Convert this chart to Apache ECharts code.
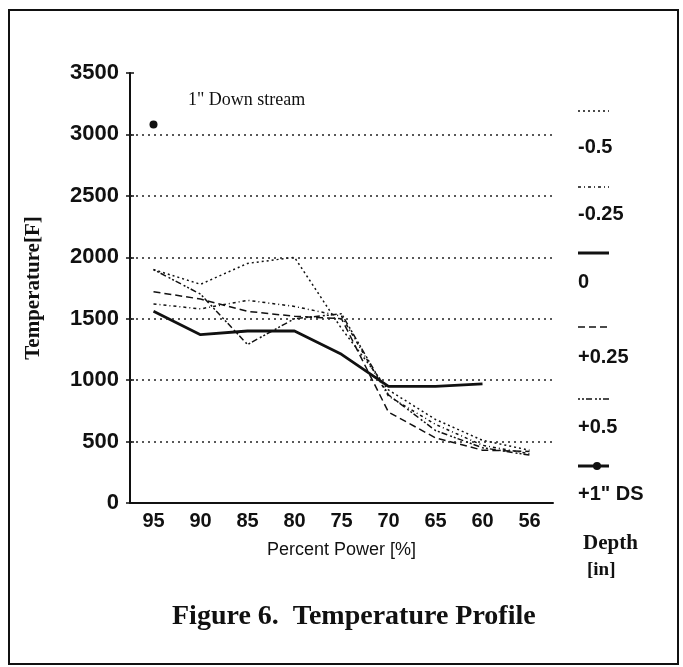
<!DOCTYPE html>
<html>
<head>
<meta charset="utf-8">
<script src="https://cdn.jsdelivr.net/npm/echarts@6/dist/echarts.min.js"></script>
<style>html,body{margin:0;padding:0;background:#fff;}#c{width:683px;height:667px;}</style>
</head>
<body>
<div id="c"></div>
<script>
const categories = ['95','90','85','80','75','70','65','60','56'];
const depthMinus05  = [1900, 1780, 1950, 2000, 1420, 920, 680, 510, 430];
const depthMinus025 = [1620, 1580, 1650, 1600, 1520, 870, 640, 470, 400];
const depthZero     = [1560, 1370, 1400, 1400, 1210, 950, 950, 970, null];
const depthPlus025  = [1720, 1660, 1560, 1520, 1500, 740, 530, 430, 420];
const depthPlus05   = [1900, 1700, 1290, 1500, 1540, 880, 590, 450, 390];
const depthDS       = [3080, null, null, null, null, null, null, null, null];
const gridValues = [500, 1000, 1500, 2000, 2500, 3000];
const legendLabels = ['-0.5', '-0.25', '0', '+0.25', '+0.5', '+1" DS'];

const chart = echarts.init(document.getElementById('c'));
const sans = 'Liberation Sans';
const serif = 'Liberation Serif';
function lineSeries(name, data, type, width) {
  return { name, type: 'line', data, showSymbol: false, symbol: 'none',
    lineStyle: { color: '#111', width: width, type: type }, silent: true, connectNulls: false };
}
const legendY = [111, 187, 253, 327, 399, 466];
const labelY = [148, 215, 283, 358, 428, 495];
const dashes = [[2,3], [3,3,1,3], null, [7,4], [2,2,2,2,6,3], null];
const graphics = [
  { type: 'rect', shape: { x: 9, y: 10, width: 669, height: 654 }, style: { fill: 'none', stroke: '#111', lineWidth: 2 } },
  { type: 'text', left: 188, top: 91, style: { text: '1" Down stream', font: '18px "Liberation Serif"', fill: '#111' } },
  { type: 'text', left: 583, top: 533, style: { text: 'Depth', font: 'bold 21px "Liberation Serif"', fill: '#111' } },
  { type: 'text', left: 587, top: 561, style: { text: '[in]', font: 'bold 19px "Liberation Serif"', fill: '#111' } },
  { type: 'text', left: 172, top: 603, style: { text: 'Figure 6.  Temperature Profile', font: 'bold 28px "Liberation Serif"', fill: '#111' } }
];
legendLabels.forEach((lab, i) => {
  const ln = { type: 'line', shape: { x1: 578, y1: legendY[i], x2: 609, y2: legendY[i] },
    style: { stroke: '#111', lineWidth: i === 2 || i === 5 ? 3 : 1.5, lineDash: dashes[i] || null } };
  graphics.push(ln);
  if (i === 5) graphics.push({ type: 'circle', shape: { cx: 597, cy: legendY[i], r: 4 }, style: { fill: '#111' } });
  graphics.push({ type: 'text', left: 578, top: labelY[i] - 11, style: { text: lab, font: 'bold 20px "Liberation Sans"', fill: '#111' } });
});

chart.setOption({
  animation: false,
  backgroundColor: '#fff',
  grid: { left: 130, right: 130, top: 73, bottom: 164 },
  xAxis: [{
    type: 'category', data: categories, boundaryGap: true,
    name: 'Percent Power [%]', nameLocation: 'middle', nameGap: 38,
    nameTextStyle: { fontFamily: sans, fontSize: 18, color: '#111' },
    axisLine: { lineStyle: { color: '#111', width: 2 } },
    axisTick: { alignWithLabel: true, length: 4, lineStyle: { color: '#111', width: 1.5 } },
    axisLabel: { fontFamily: sans, fontWeight: 'bold', fontSize: 20, color: '#111', margin: 8 }
  }, {
    type: 'category', data: categories, boundaryGap: true, position: 'bottom',
    axisLine: { show: false }, axisLabel: { show: false },
    axisTick: { inside: true, alignWithLabel: true, length: 4, lineStyle: { color: '#111', width: 1.5 } }
  }],
  yAxis: [{
    type: 'value', min: 0, max: 3500, interval: 500,
    name: 'Temperature[F]', nameLocation: 'middle', nameGap: 86, nameRotate: 90,
    nameTextStyle: { fontFamily: serif, fontWeight: 'bold', fontSize: 21, color: '#111' },
    axisLine: { show: true, lineStyle: { color: '#111', width: 2 } },
    axisTick: { show: true, length: 4, lineStyle: { color: '#111', width: 1.5 } },
    axisLabel: { fontFamily: sans, fontWeight: 'bold', fontSize: 22, color: '#111', margin: 11,
      formatter: v => String(v) },
    splitLine: { show: false }
  }, {
    type: 'value', min: 0, max: 3500, interval: 500, position: 'left',
    axisLine: { show: false }, axisLabel: { show: false }, splitLine: { show: false },
    axisTick: { show: true, inside: true, length: 4, lineStyle: { color: '#111', width: 1.5 } }
  }],
  series: [
    lineSeries('-0.5', depthMinus05, [2,3], 1.5),
    lineSeries('-0.25', depthMinus025, [3,3,1,3], 1.5),
    lineSeries('0', depthZero, 'solid', 2.8),
    lineSeries('+0.25', depthPlus025, [7,4], 1.5),
    lineSeries('+0.5', depthPlus05, [2,2,2,2,6,3], 1.5),
    { name: '+1" DS', type: 'line', data: depthDS, symbol: 'circle', symbolSize: 8, showSymbol: true,
      itemStyle: { color: '#111' }, lineStyle: { color: '#111', width: 3 }, silent: true,
      markLine: { silent: true, symbol: 'none', label: { show: false },
        lineStyle: { color: '#222', width: 1.5, type: [2,4] },
        data: gridValues.map(v => ({ yAxis: v })) } }
  ],
  graphic: graphics
});
</script>
</body>
</html>
